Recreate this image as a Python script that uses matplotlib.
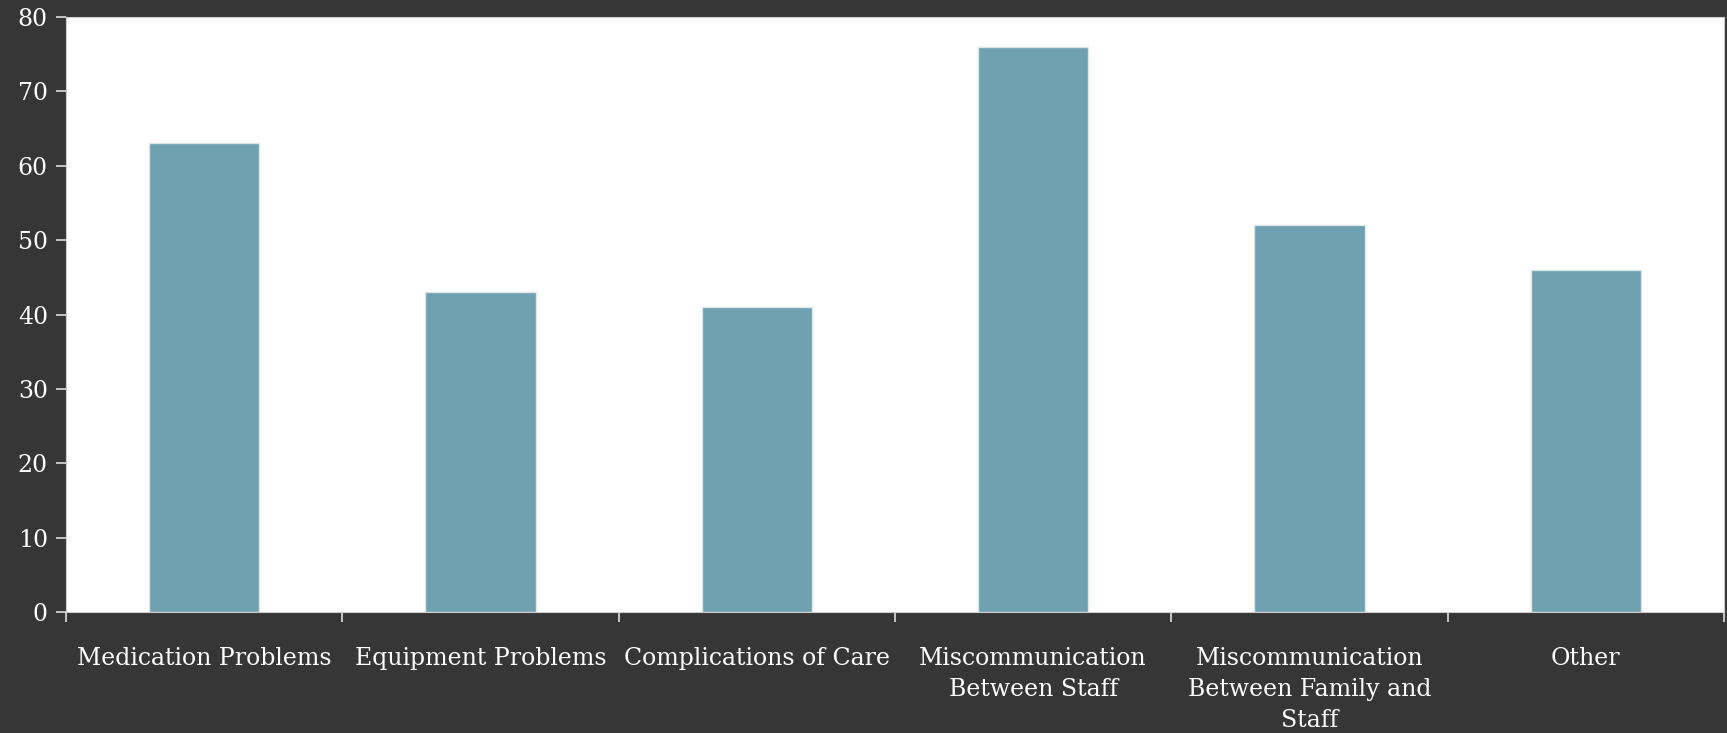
import matplotlib.pyplot as plt
import numpy as np

categories = ["Medication Problems", "Equipment Problems", "Complications of Care",
              "Miscommunication\nBetween Staff",
              "Miscommunication\nBetween Family and\nStaff", "Other"]
counts = [63, 43, 41, 76, 52, 46]

bg = "#363636"
bar_color = "#6fa0b0"
plt.rcParams["font.family"] = ["DejaVu Serif"]

fig = plt.figure(figsize=(17.27, 7.33), dpi=100, facecolor=bg)
ax = fig.add_axes([66 / 1727, 1 - 612 / 733, (1724 - 66) / 1727, (612 - 17) / 733])
ax.set_facecolor("white")

x = np.arange(len(categories)) + 0.5
ax.bar(x, counts, width=0.4, color=bar_color, edgecolor="#dde6ea", linewidth=1)

ax.set_xlim(0, len(categories))
ax.set_ylim(0, 80)
ax.set_yticks(range(0, 81, 10))
ax.set_xticks(range(len(categories) + 1))
ax.set_xticklabels([])
ax.set_xticks(x, minor=True)
ax.set_xticklabels(categories, minor=True, ha="center", va="top", linespacing=1.45)

for s in ax.spines.values():
    s.set_color("#cccccc")
ax.tick_params(axis="both", which="major", colors="#dddddd", labelcolor="white",
               length=7, width=1.2, labelsize=17)
ax.tick_params(axis="x", which="minor", length=0, pad=25, labelcolor="white", labelsize=17)
ax.tick_params(axis="y", pad=6)

fig.savefig("out.png", dpi=100, facecolor=bg)
